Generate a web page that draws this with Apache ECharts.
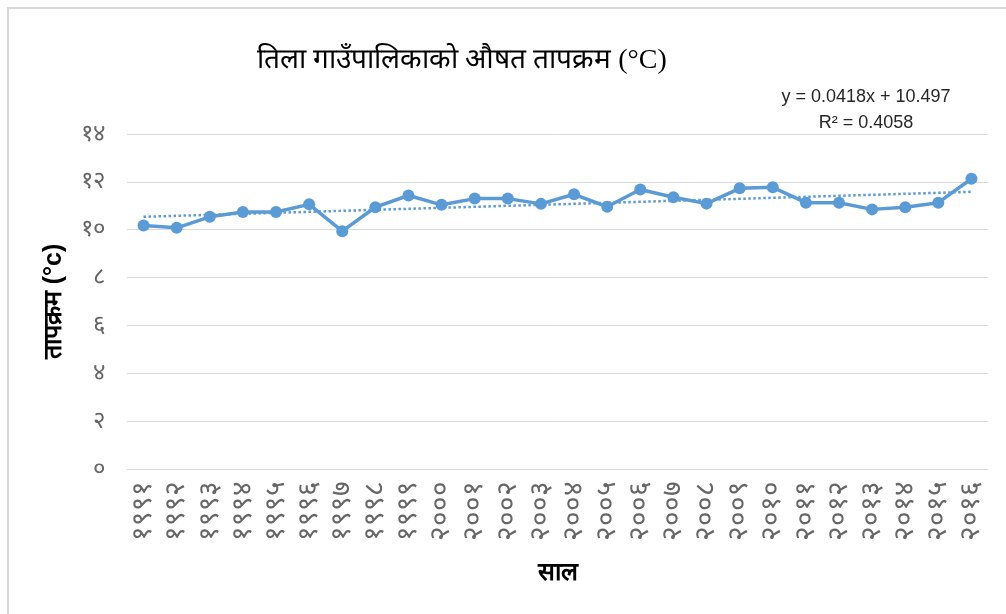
<!DOCTYPE html>
<html>
<head>
<meta charset="utf-8">
<title>तिला गाउँपालिका तापक्रम</title>
<script src="https://cdn.jsdelivr.net/npm/echarts@6/dist/echarts.min.js"></script>
<style>
    html, body { margin: 0; padding: 0; background: #fff; }
    #main { width: 1006px; height: 614px; }
</style>
</head>
<body>
<div id="main"></div>
<script>
// साल (1991 - 2016)
var years = ['१९९१', '१९९२', '१९९३', '१९९४', '१९९५', '१९९६', '१९९७', '१९९८', '१९९९', '२०००',
    '२००१', '२००२', '२००३', '२००४', '२००५', '२००६', '२००७', '२००८', '२००९', '२०१०',
    '२०११', '२०१२', '२०१३', '२०१४', '२०१५', '२०१६'];

// औषत तापक्रम (°C)
var avgTemp = [10.18, 10.08, 10.54, 10.74, 10.74, 11.06, 9.94, 10.94, 11.43, 11.04,
    11.30, 11.30, 11.08, 11.48, 10.96, 11.68, 11.36, 11.09, 11.73, 11.77,
    11.13, 11.13, 10.85, 10.94, 11.13, 12.13];

// y-axis tick labels 0..14
var yTicks = ['०', '२', '४', '६', '८', '१०', '१२', '१४'];

// linear trend: y = 0.0418x + 10.497 (x = 1..26)
var trendEnds = [10.539, 11.584];
var trendText = ['y = 0.0418x + 10.497', 'R² = 0.4058'];

var chart = echarts.init(document.getElementById('main'));

var option = {
    backgroundColor: '#fff',
    animation: false,
    title: [{
        text: 'तिला गाउँपालिकाको औषत तापक्रम (°C)',
        left: 457,
        top: 42,
        textAlign: 'center',
        textStyle: {
            fontFamily: 'serif',
            fontSize: 28,
            fontWeight: 'normal',
            color: '#000'
        }
    }, {
        text: trendText.join('\n'),
        left: 861,
        top: 79,
        textAlign: 'center',
        textStyle: {
            fontFamily: 'Liberation Sans, sans-serif',
            fontSize: 18,
            fontWeight: 'normal',
            color: '#262626',
            lineHeight: 26
        }
    }],
    graphic: [{
        type: 'rect',
        shape: {x: 8, y: 8, width: 1010, height: 620},
        style: {fill: 'none', stroke: '#d9d9d9', lineWidth: 2},
        silent: true
    }],
    grid: {
        left: 127,
        right: 18,
        top: 134,
        bottom: 145
    },
    xAxis: {
        type: 'category',
        data: years,
        name: 'साल',
        nameLocation: 'middle',
        nameGap: 92,
        nameTextStyle: {
            fontSize: 25,
            fontWeight: 'bold',
            color: '#000'
        },
        axisLine: {lineStyle: {color: '#d9d9d9'}},
        axisTick: {show: false},
        axisLabel: {
            rotate: 90,
            fontSize: 28,
            color: '#666',
            margin: 12,
            interval: 0
        }
    },
    yAxis: {
        type: 'value',
        min: 0,
        max: 14,
        interval: 2,
        name: 'तापक्रम (°c)',
        nameLocation: 'middle',
        nameRotate: 90,
        nameGap: 60,
        nameTextStyle: {
            fontSize: 25,
            fontWeight: 'bold',
            color: '#000'
        },
        axisLine: {show: false},
        axisTick: {show: false},
        splitLine: {lineStyle: {color: '#d9d9d9', width: 1}},
        axisLabel: {
            fontSize: 24,
            color: '#666',
            margin: 22,
            formatter: function (v) {
                return yTicks[Math.round(v / 2)];
            }
        }
    },
    series: [{
        name: 'औषत तापक्रम',
        type: 'line',
        data: avgTemp,
        symbol: 'circle',
        symbolSize: 12,
        lineStyle: {color: '#5b9bd5', width: 3.5},
        itemStyle: {color: '#5b9bd5'},
        markLine: {
            silent: true,
            symbol: ['none', 'none'],
            label: {show: false},
            lineStyle: {color: '#5b9bd5', type: 'dotted', width: 2.5},
            data: [[
                {coord: [0, trendEnds[0]]},
                {coord: [years.length - 1, trendEnds[1]]}
            ]]
        }
    }]
};

chart.setOption(option);
</script>
</body>
</html>
